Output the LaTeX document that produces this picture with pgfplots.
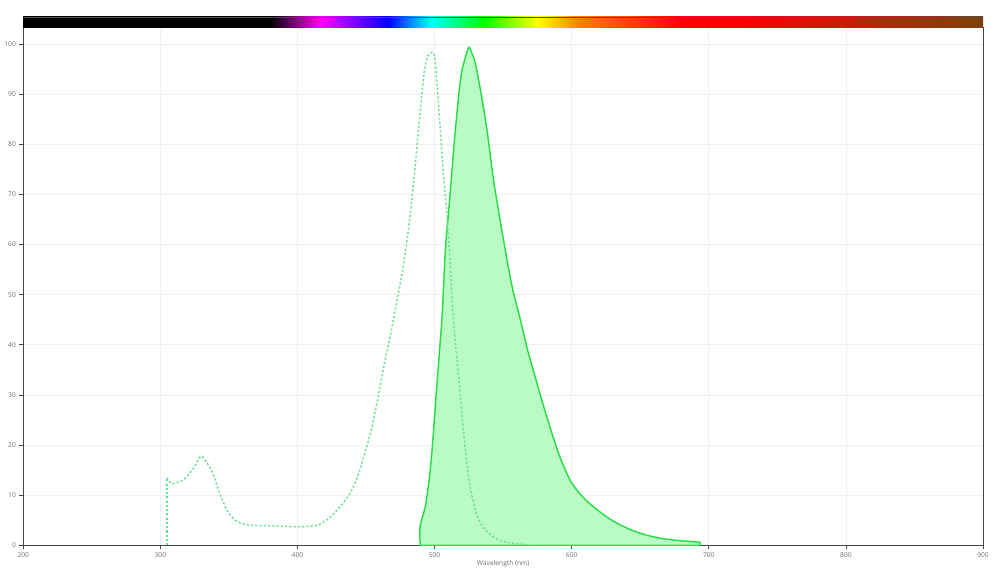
\documentclass[border=0pt]{standalone}
\usepackage{fontspec}
\setmainfont{Open Sans}
\usepackage{pgfplots}
\pgfplotsset{compat=1.18}
\definecolor{emline}{RGB}{40,222,70}
\definecolor{emfill}{RGB}{186,250,197}
\definecolor{exline}{RGB}{105,222,150}
\definecolor{gridc}{RGB}{240,240,240}
\definecolor{axc}{RGB}{70,70,70}
\definecolor{labc}{RGB}{110,110,110}
\definecolor{spBlack}{RGB}{0,0,0}
\definecolor{spMag}{RGB}{255,0,255}
\definecolor{spBlue}{RGB}{0,0,255}
\definecolor{spCyan}{RGB}{0,255,255}
\definecolor{spGreen}{RGB}{0,255,0}
\definecolor{spYellow}{RGB}{255,255,0}
\definecolor{spOrange}{RGB}{255,128,0}
\definecolor{spRed}{RGB}{255,0,0}
\definecolor{spDark}{RGB}{200,30,0}
\definecolor{spBrown}{RGB}{125,65,10}
\pgfdeclarehorizontalshading{spectrum}{100bp}{color(0bp)=(spBlack); color(25bp)=(spBlack); color(37.86bp)=(spBlack); color(40.5bp)=(spMag); color(44.0bp)=(spBlue); color(46.21bp)=(spCyan); color(48.93bp)=(spGreen); color(51.79bp)=(spYellow); color(53.93bp)=(spOrange); color(59.29bp)=(spRed); color(62.14bp)=(spRed); color(67.14bp)=(spDark); color(75bp)=(spBrown); color(100bp)=(spBrown)}
\begin{document}
\begin{tikzpicture}
\begin{axis}[name=main, scale only axis, width=720.75pt, height=388.5pt,
  xmin=200, xmax=900, ymin=0, ymax=103.2,
  xtick={200,300,...,900}, ytick={0,10,...,100},
  xtick pos=bottom, ytick pos=left,
  grid=major, grid style={color=gridc, line width=0.5pt},
  axis line style={color=axc, line width=0.75pt},
  tick style={color=axc, line width=0.6pt},
  tick align=outside, major tick length=3pt,
  ticklabel style={font=\fontsize{5}{6}\selectfont, text=labc},
  /pgf/number format/assume math mode=true,
  /pgf/number format/1000 sep={},
  xticklabel style={yshift=1pt},
  yticklabel style={xshift=1pt},
]
\addplot[draw=emline, line width=1.1pt, fill=emfill, smooth, tension=0.4] coordinates {
(489.5,0) (489.5,3.8) (493.3,7.8) (496,13) (498.2,19.1) (501.8,32.4) (505.5,45.7)
(507.9,59) (511,69) (513.9,78.9) (515.2,82.9) (517.5,89.5) (520,94.8)
(524.8,99.3) (527,98.3) (529.7,96.2) (534,90) (538.2,82.9) (543,72.9)
(548,64.5) (552.8,57) (557,51) (562.4,45.2) (568,38.8) (574.6,32.4)
(580,27.3) (586,22) (592,17.2) (598.8,13) (605,10.6) (612,8.6) (620,6.8) (628,5.2)
(636,4.0) (645,2.9) (655,2.0) (667,1.3) (680,0.9) (693.4,0.6) (693.4,0)
} \closedcycle;
\addplot[draw=exline, line width=1.1pt, dash pattern=on 1.6pt off 1.6pt] coordinates {
(304.8,0) (304.8,13.5)
};
\addplot[draw=exline, line width=1.1pt, dash pattern=on 1.6pt off 1.6pt, smooth, tension=0.4] coordinates {
(304.8,13.5) (308,12.3) (311.4,12.5) (317,13.1) (324.5,15.5) (329.5,17.8)
(334,16.5) (338,14.5) (344.1,9.8) (349,6.8) (353.8,5.2) (358.7,4.4) (366,4.0)
(380,3.9) (400,3.7) (408,3.8) (414.5,4.0) (420,4.8) (425,5.9) (431.4,7.8)
(438.7,10.5) (443.6,13.5) (448,17.3) (453.3,22.4) (458,28.5) (463,35.7)
(468,42.2) (472.7,49) (476.5,54.5) (480,61) (483.5,69) (487,79) (490,88)
(492.5,94.5) (495,97.6) (498.9,98.3) (500.6,96.2) (504.2,82.9) (506.6,73.6)
(509.1,65.6) (511.5,55.6) (512.7,49) (515,41) (518,32.4) (520,26)
(522.4,19.1) (526,11.5) (530.9,6.0) (536,3.4) (545.5,1.2) (555,0.5) (564.8,0.2) (570,0)
};
\end{axis}
\path[use as bounding box] ([xshift=-16.5pt,yshift=-16.5pt]main.south west) rectangle ([xshift=12.75pt,yshift=21pt]main.north east);
\shade[shading=spectrum] (main.north west) rectangle ([yshift=8.25pt]main.north east);
\draw[black!70, line width=0.5pt] ([yshift=8.25pt]main.north west) -- ([yshift=8.25pt]main.north east);
\node[font=\fontsize{5}{6}\selectfont, text=labc, anchor=north, inner sep=0.5pt] at ([yshift=-11pt]main.south) {Wavelength (nm)};
\end{tikzpicture}
\end{document}
